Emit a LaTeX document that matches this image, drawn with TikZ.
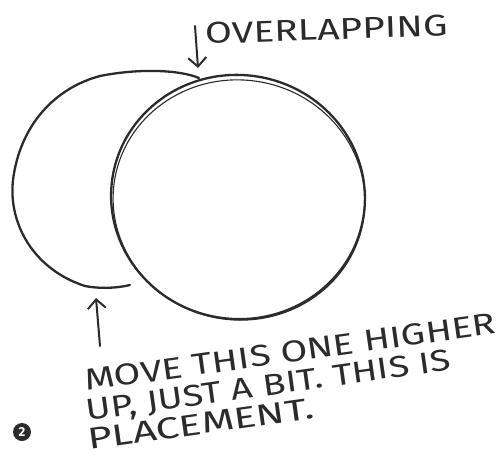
\documentclass[tikz,border=0pt]{standalone}
\usepackage{fontspec}
\setmainfont{Fira Sans}
\usetikzlibrary{arrows.meta}
\definecolor{inkc}{HTML}{2B2B2B}
\begin{document}
\begin{tikzpicture}[x=1pt,y=-1pt,line cap=round,line join=round]
\tikzset{
  ink/.style={draw=inkc,line width=2.3pt},
  inkthin/.style={draw=inkc,line width=1.1pt},
  hand/.style={font=\fontsize{30}{31}\selectfont,text=inkc,inner sep=0pt,
    text height=0.69em,text depth=0pt,anchor=base west},
  pointer/.style={ink,line width=2pt,-{Straight Barb[length=9pt,width=18pt,line width=2pt]}}
}
\useasboundingbox (0,0) rectangle (502,457);
% left circle (only its part outside the right one)
\draw[ink] (199,78) .. controls (180,70) and (140,68) .. (100,76)
  .. controls (55,88) and (20,125) .. (13,180)
  .. controls (8,225) and (35,270) .. (85,286)
  .. controls (100,289) and (118,288) .. (130,285);
% right circle
\draw[ink] (238,197) ellipse [x radius=127,y radius=122,rotate=-8];
\draw[inkthin] (239,200) ellipse [x radius=126,y radius=120,rotate=-8];
% labels
\node[hand,rotate=2,xscale=1.3] (ov) at (205,44) {OVERLAPPING};
\coordinate (ovtail) at (195,26);
\coordinate (ovtip) at (198,68);
\draw[pointer] (ovtail) -- (ovtip);
\node[hand,rotate=8,xscale=1.29] (l1) at (86,391) {MOVE THIS ONE HIGHER};
\node[hand,rotate=8,xscale=1.26] (l2) at (87,421) {UP, JUST A BIT. THIS IS};
\node[hand,rotate=8,xscale=1.4] (l3) at (89,450) {PLACEMENT.};
\coordinate (uptail) at (100,346);
\coordinate (uptip) at (96,298);
\draw[pointer] (uptail) -- (uptip);
\node[circle,fill=inkc,minimum size=18pt,inner sep=0pt,text=white,font=\bfseries\fontsize{13}{13}\selectfont] (num) at (22,432) {2};
\end{tikzpicture}
\end{document}
